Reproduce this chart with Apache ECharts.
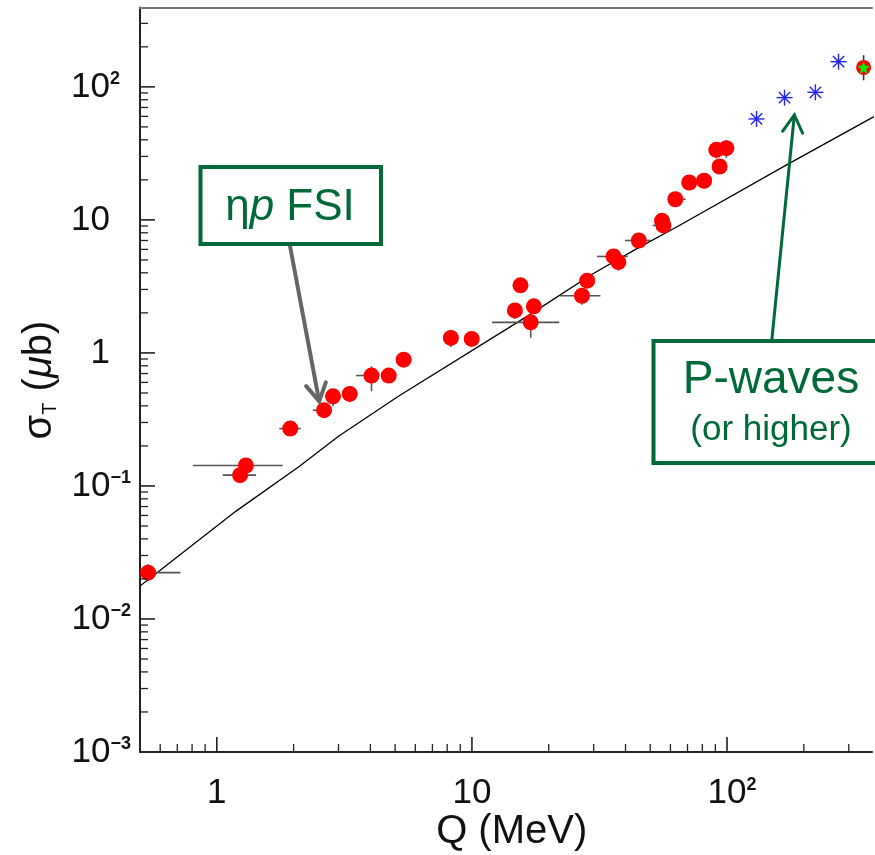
<!DOCTYPE html>
<html>
<head>
<meta charset="utf-8">
<script src="https://cdn.jsdelivr.net/npm/echarts@6/dist/echarts.min.js"></script>
<style>
  html, body { margin: 0; padding: 0; background: #ffffff; }
  #chart { width: 875px; height: 855px; }
</style>
</head>
<body>
<div id="chart"></div>
<script>
// Total cross section sigma_T versus excess energy Q, log-log.

// Measured points (red circles): Q in MeV, sigma in microbarn, with error ranges (null = none shown)
const redQ        = [0.538, 1.234, 1.30, 1.94, 2.633, 2.855, 3.32, 4.04, 4.72, 5.40, 8.27, 9.98, 14.74, 15.5, 17.0, 17.49, 27.0, 28.3, 35.9, 37.5, 45.1, 55.6, 56.3, 62.7, 71.1, 81.3, 93.5, 90.8, 99.4];
const redSigma    = [0.0223, 0.1205, 0.1425, 0.270, 0.371, 0.472, 0.492, 0.676, 0.676, 0.89, 1.296, 1.274, 2.088, 3.22, 1.697, 2.24, 2.69, 3.49, 5.31, 4.82, 7.0, 9.84, 9.08, 14.3, 19.1, 19.7, 25.2, 33.6, 34.6];
const redQLo      = [0.505, 1.055, 0.806, 1.757, 2.38, 2.65, null, 3.51, null, null, null, null, null, null, 12.0, null, 22.1, null, 30.9, null, 39.8, null, 51.1, 59.3, null, null, null, null, null];
const redQHi      = [0.72, 1.425, 1.81, 2.135, 2.63, 3.05, null, 4.27, null, null, null, null, null, null, 22.0, null, 31.9, null, 40.8, null, 50.3, null, 60.1, 68.8, null, null, null, null, null];
const redSigmaLo  = [0.0193, null, null, null, null, 0.397, null, 0.515, null, null, 1.11, null, 1.80, null, 1.30, null, 2.30, null, null, 4.16, null, null, null, null, null, null, null, 29.0, 29.3];
const redSigmaHi  = [0.0258, null, null, null, null, 0.53, null, 0.793, null, null, 1.496, null, 2.088, null, 2.05, null, 2.69, null, null, 4.82, null, null, null, null, null, null, null, 33.6, 39.8];

// High-energy measurements (blue asterisks)
const blueQ     = [130.5, 168, 222, 273.5];
const blueSigma = [57.4, 83.0, 91, 154.6];

// Highest-Q point (red circle with green star)
const starQ       = [343];
const starSigma   = [140];
const starSigmaLo = [112];
const starSigmaHi = [173];

// Phase-space curve
const curveQ     = [0.5, 1.19, 2.103, 3.01, 5.17, 16.87, 29.35, 44.67, 63.97, 171.9, 369, 400];
const curveSigma = [0.0177, 0.0647, 0.140, 0.2377, 0.4747, 1.939, 3.87, 6.13, 8.92, 26.05, 58.4, 63];

// Axis ticks
const xMajorTicks = [1, 10, 100];
const xMinorTicks = [0.6, 0.7, 0.8, 0.9, 2, 3, 4, 5, 6, 7, 8, 9, 20, 30, 40, 50, 60, 70, 80, 90, 200, 300];
const yMajorTicks = [0.001, 0.01, 0.1, 1, 10, 100];
const yMinorTicks = [
  0.002, 0.003, 0.004, 0.005, 0.006, 0.007, 0.008, 0.009,
  0.02, 0.03, 0.04, 0.05, 0.06, 0.07, 0.08, 0.09,
  0.2, 0.3, 0.4, 0.5, 0.6, 0.7, 0.8, 0.9,
  2, 3, 4, 5, 6, 7, 8, 9,
  20, 30, 40, 50, 60, 70, 80, 90,
  200, 300
];

const Q_MIN = 0.5, Q_MAX = 370, S_MIN = 0.001, S_MAX = 395;
const FONT = '"Liberation Sans", Arial, Helvetica, sans-serif';
const GREEN = '#00693a';
const AXIS = '#222222';
const SUP_FONT = 'bold 18px ' + FONT;
const SUP_BOX = 27;   // room reserved right of the "10" for the exponent

const measureCtx = document.createElement('canvas').getContext('2d');
function textWidth(text, font) {
  measureCtx.font = font;
  return measureCtx.measureText(text).width;
}

function powerOf(v) {
  const l = Math.log10(v);
  const p = Math.round(l);
  return Math.abs(l - p) < 1e-6 ? p : null;
}
function supText(p) { return String(p).replace('-', '\u2212'); }

// y labels: the "10" base is right-aligned, the exponent hangs to its right
const yPadStyles = {};
function yLabel(v) {
  const p = powerOf(v);
  if (p === null) return '';
  const base = p === 0 ? '1' : '10';
  const sup = p === 0 || p === 1 ? '' : supText(p);
  const pad = Math.max(1, Math.round(SUP_BOX - (sup ? textWidth(sup, SUP_FONT) : 0)));
  const key = 'p' + pad;
  yPadStyles[key] = { width: pad, fontSize: 10 };
  return '{b|' + base + '}' + (sup ? '{s|' + sup + '}' : '') + '{' + key + '| }';
}
// x labels: the "10" base is centred on the tick, the exponent hangs to its right
function xLabel(v) {
  const p = powerOf(v);
  if (p === null) return '';
  if (p === 0) return '{b|1}';
  if (p === 1) return '{b|10}';
  const sup = supText(p);
  const w = Math.round(textWidth(sup, SUP_FONT));
  return '{sp' + w + '| }{b|10}{s|' + sup + '}';
}

function tickSeries(values, onX, len, width) {
  return {
    type: 'custom',
    silent: true,
    z: 5,
    data: values.map(v => onX ? [v, S_MIN] : [Q_MIN, v]),
    encode: { x: 0, y: 1 },
    renderItem: function (params, api) {
      const p = api.coord([api.value(0), api.value(1)]);
      const shape = onX
        ? { x1: p[0], y1: p[1], x2: p[0], y2: p[1] - len }
        : { x1: p[0], y1: p[1], x2: p[0] + len, y2: p[1] };
      return { type: 'line', shape: shape, style: { stroke: AXIS, lineWidth: width } };
    }
  };
}

function errorBarItem(api, color) {
  const q = api.value(0), s = api.value(1);
  const qLo = api.value(2), qHi = api.value(3), sLo = api.value(4), sHi = api.value(5);
  const children = [];
  if (!isNaN(qLo) && !isNaN(qHi)) {
    const a = api.coord([qLo, s]), b = api.coord([qHi, s]);
    children.push({ type: 'line', shape: { x1: a[0], y1: a[1], x2: b[0], y2: b[1] },
      style: { stroke: color, lineWidth: 1.6 } });
  }
  if (!isNaN(sLo) && !isNaN(sHi)) {
    const a = api.coord([q, sLo]), b = api.coord([q, sHi]);
    children.push({ type: 'line', shape: { x1: a[0], y1: a[1], x2: b[0], y2: b[1] },
      style: { stroke: color, lineWidth: 1.6 } });
  }
  return { type: 'group', children: children };
}

// build label rich styles (padding tokens are created by the formatters)
yMajorTicks.forEach(yLabel);
const baseStyle = { fontSize: 35, fontFamily: FONT, color: '#111', lineHeight: 36 };
const supStyle = { fontSize: 18, fontFamily: FONT, fontWeight: 'bold', color: '#111', lineHeight: 18,
                   verticalAlign: 'top', padding: [1, 0, 0, 0] };
const yRich = Object.assign({ b: baseStyle, s: supStyle }, yPadStyles);
const xRich = { b: baseStyle, s: supStyle };
xMajorTicks.forEach(v => {
  const p = powerOf(v);
  if (p > 1) {
    const w = Math.round(textWidth(supText(p), SUP_FONT));
    xRich['sp' + w] = { width: w, fontSize: 10 };
  }
});

const STAR_PATH = 'path://M0,-10L2.35,-3.24L9.51,-3.09L3.8,1.24L5.88,8.09L0,4L-5.88,8.09L-3.8,1.24L-9.51,-3.09L-2.35,-3.24Z';

const chart = echarts.init(document.getElementById('chart'), null, { renderer: 'canvas' });

chart.setOption({
  animation: false,
  backgroundColor: '#ffffff',
  grid: { left: 140, top: 7.5, bottom: 103, right: 0, show: false },
  xAxis: [
    {
      type: 'log', logBase: 10, min: Q_MIN, max: Q_MAX, position: 'bottom',
      axisLine: { show: true, lineStyle: { color: AXIS, width: 2 } },
      axisTick: { show: false },
      splitLine: { show: false },
      minorTick: { show: false },
      axisLabel: { formatter: xLabel, margin: 23, rich: xRich, color: '#111' }
    },
    {
      // frame line along the top edge
      type: 'log', logBase: 10, min: Q_MIN, max: Q_MAX, position: 'top',
      axisLine: { show: true, lineStyle: { color: '#777777', width: 2 } },
      axisTick: { show: false },
      splitLine: { show: false },
      axisLabel: { show: false }
    }
  ],
  yAxis: {
    type: 'log', logBase: 10, min: S_MIN, max: S_MAX,
    axisLine: { show: true, lineStyle: { color: AXIS, width: 2 } },
    axisTick: { show: false },
    splitLine: { show: false },
    minorTick: { show: false },
    axisLabel: { formatter: yLabel, margin: 3, align: 'right', rich: yRich, color: '#111' }
  },
  series: [
    {
      type: 'line',
      data: curveQ.map((q, i) => [q, curveSigma[i]]),
      showSymbol: false,
      smooth: false,
      clip: true,
      silent: true,
      lineStyle: { color: '#000000', width: 1.3 },
      z: 2
    },
    {
      type: 'custom',
      silent: true,
      z: 3,
      data: redQ.map((q, i) => [q, redSigma[i], redQLo[i], redQHi[i], redSigmaLo[i], redSigmaHi[i]]),
      encode: { x: 0, y: 1 },
      renderItem: function (params, api) { return errorBarItem(api, '#555555'); }
    },
    {
      type: 'custom',
      silent: true,
      z: 3,
      data: starQ.map((q, i) => [q, starSigma[i], null, null, starSigmaLo[i], starSigmaHi[i]]),
      encode: { x: 0, y: 1 },
      renderItem: function (params, api) { return errorBarItem(api, '#333333'); }
    },
    {
      type: 'scatter',
      data: redQ.map((q, i) => [q, redSigma[i]]),
      symbol: 'circle',
      symbolSize: 16,
      itemStyle: { color: '#ff0000', opacity: 1 },
      z: 4
    },
    {
      type: 'custom',
      silent: true,
      z: 4,
      data: blueQ.map((q, i) => [q, blueSigma[i]]),
      encode: { x: 0, y: 1 },
      renderItem: function (params, api) {
        const c = api.coord([api.value(0), api.value(1)]);
        const r = 8, d = r * 0.7071;
        const seg = (dx, dy) => ({ type: 'line',
          shape: { x1: c[0] - dx, y1: c[1] - dy, x2: c[0] + dx, y2: c[1] + dy },
          style: { stroke: '#2222ff', lineWidth: 1.4 } });
        return { type: 'group', children: [seg(r, 0), seg(0, r), seg(d, d), seg(d, -d)] };
      }
    },
    {
      type: 'scatter',
      data: starQ.map((q, i) => [q, starSigma[i]]),
      symbol: 'circle',
      symbolSize: 15,
      itemStyle: { color: '#ff0000', opacity: 1 },
      z: 4
    },
    {
      type: 'scatter',
      data: starQ.map((q, i) => [q, starSigma[i]]),
      symbol: STAR_PATH,
      symbolSize: 13,
      itemStyle: { color: '#00ee00', opacity: 1 },
      z: 5
    },
    tickSeries(xMajorTicks, true, 15, 1.6),
    tickSeries(xMinorTicks, true, 8, 1.3),
    tickSeries(yMajorTicks, false, 15, 1.6),
    tickSeries(yMinorTicks, false, 8, 1.3)
  ]
});

// Annotations: boxes with arrows pointing at regions of the data
function arrowShapes(tail, tip, color, width) {
  const dx = tip[0] - tail[0], dy = tip[1] - tail[1];
  const L = Math.hypot(dx, dy);
  const bx = -dx / L, by = -dy / L;
  const a = 30 * Math.PI / 180, len = 20;
  const arm = (ang) => [tip[0] + len * (bx * Math.cos(ang) - by * Math.sin(ang)),
                        tip[1] + len * (bx * Math.sin(ang) + by * Math.cos(ang))];
  return [
    { type: 'line', z: 20, shape: { x1: tail[0], y1: tail[1], x2: tip[0], y2: tip[1] },
      style: { stroke: color, lineWidth: width, lineCap: 'round' } },
    { type: 'polyline', z: 20, shape: { points: [arm(a), tip, arm(-a)] },
      style: { stroke: color, lineWidth: width, fill: null, lineJoin: 'miter', lineCap: 'round' } }
  ];
}

const fsiTip = chart.convertToPixel({ gridIndex: 0 }, [2.52, 0.433]);
const pwaveTip = chart.convertToPixel({ gridIndex: 0 }, [183.6, 61.5]);

const graphics = [].concat(
  arrowShapes([290, 246], fsiTip, '#666666', 4),
  arrowShapes([771.7, 341], pwaveTip, GREEN, 3),
  [
    { type: 'rect', z: 21, shape: { x: 200.5, y: 167, width: 180.5, height: 77 },
      style: { fill: '#ffffff', stroke: GREEN, lineWidth: 4 } },
    { type: 'text', z: 22, x: 290, y: 208,
      style: {
        text: '{a|\u03b7}{i|p}{a| FSI}',
        align: 'center', verticalAlign: 'middle',
        rich: {
          a: { fontSize: 44, fontFamily: FONT, fill: GREEN, lineHeight: 50 },
          i: { fontSize: 44, fontFamily: FONT, fontStyle: 'italic', fill: GREEN, lineHeight: 50 }
        }
      } },
    { type: 'rect', z: 21, shape: { x: 653.5, y: 341, width: 260, height: 122 },
      style: { fill: '#ffffff', stroke: GREEN, lineWidth: 4 } },
    { type: 'text', z: 22, x: 771, y: 380.7,
      style: { text: 'P-waves', fontSize: 46, fontFamily: FONT, fill: GREEN,
               align: 'center', verticalAlign: 'middle' } },
    { type: 'text', z: 22, x: 771, y: 430.5,
      style: { text: '(or higher)', fontSize: 35, fontFamily: FONT, fill: GREEN,
               align: 'center', verticalAlign: 'middle' } },
    // axis titles
    { type: 'text', z: 22, x: 511.7, y: 831.8,
      style: { text: 'Q (MeV)', fontSize: 40, fontFamily: FONT, fill: '#111',
               align: 'center', verticalAlign: 'middle' } },
    { type: 'text', z: 22, x: 40, y: 380, rotation: Math.PI / 2,
      style: {
        text: '{a|\u03c3}{t|T}{a| (}{m|\u03bc}{a|b)}',
        align: 'center', verticalAlign: 'middle',
        rich: {
          a: { fontSize: 40, fontFamily: FONT, fill: '#111', lineHeight: 46 },
          m: { fontSize: 40, fontFamily: FONT, fontStyle: 'italic', fill: '#111', lineHeight: 46 },
          t: { fontSize: 20, fontFamily: FONT, fill: '#111', lineHeight: 20,
               verticalAlign: 'bottom', padding: [0, 0, 3, 0] }
        }
      } }
  ]
);

chart.setOption({ graphic: graphics });
</script>
</body>
</html>
